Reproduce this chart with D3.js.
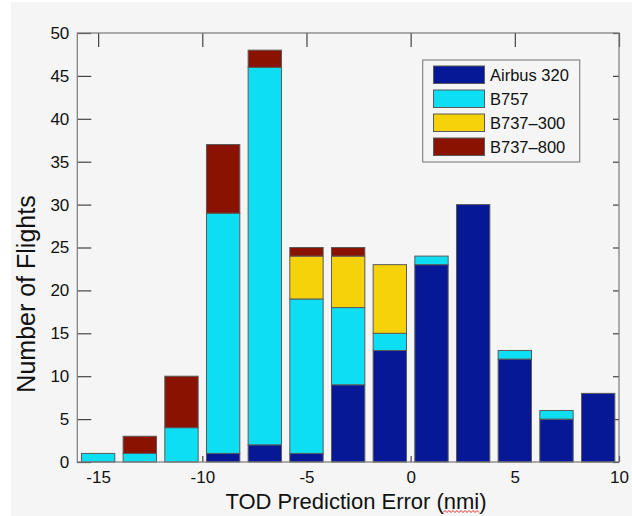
<!DOCTYPE html>
<html>
<head>
<meta charset="utf-8">
<script src="https://cdn.jsdelivr.net/npm/d3@7"></script>
<style>
  html, body { margin: 0; padding: 0; background: #ffffff; }
  svg { display: block; }
  text { font-family: "Liberation Sans", Arial, Helvetica, sans-serif; fill: #111; }
</style>
</head>
<body>
<script>
// ---- data ----
const categories = [-15, -13, -11, -9, -7, -5, -3, -1, 1, 3, 5, 7, 9];
const seriesNames = ["Airbus 320", "B757", "B737-300", "B737-800"];
const airbus320 = [0, 0, 0, 1, 2, 1, 9, 13, 23, 30, 12, 5, 8];
const b757      = [1, 1, 4, 28, 44, 18, 9, 2, 1, 0, 1, 1, 0];
const b737_300  = [0, 0, 0, 0, 0, 5, 6, 8, 0, 0, 0, 0, 0];
const b737_800  = [0, 2, 6, 8, 2, 1, 1, 0, 0, 0, 0, 0, 0];
const xTicks = [-15, -10, -5, 0, 5, 10];
const yTicks = [0, 5, 10, 15, 20, 25, 30, 35, 40, 45, 50];
const xTitle = "TOD Prediction Error (nmi)";
const yTitle = "Number of Flights";

(function () {
// ---- setup ----
const W = 632, H = 516;
const colors = ["#061896", "#0edef4", "#f5d20a", "#891200"];
const seriesArrays = [airbus320, b757, b737_300, b737_800];

const rows = categories.map((c, i) => {
  const r = { cat: c };
  seriesNames.forEach((s, k) => { r[s] = seriesArrays[k][i]; });
  return r;
});

const svg = d3.select("body").append("svg").attr("width", W).attr("height", H);
svg.append("rect").attr("width", W).attr("height", H).attr("fill", "#ffffff");
svg.append("rect").attr("x", 11).attr("y", 2).attr("width", W - 11).attr("height", H - 2).attr("fill", "#f5f5f5");

const pLeft = 77.3, pRight = 619, pTop = 33, pBottom = 462;
const x = d3.scaleLinear().domain([-16, 10]).range([pLeft, pRight]);
const y = d3.scaleLinear().domain([0, 50]).range([pBottom, pTop]);

// ticks
const tickColor = "#444";
const gLeft = svg.append("g").attr("transform", `translate(${pLeft},0)`)
  .call(d3.axisLeft(y).tickValues(yTicks).tickSizeInner(-14).tickSizeOuter(0).tickPadding(8));
const gRight = svg.append("g").attr("transform", `translate(${pRight},0)`)
  .call(d3.axisRight(y).tickValues(yTicks).tickSizeInner(-6).tickSizeOuter(0).tickFormat(""));
const gTop = svg.append("g").attr("transform", `translate(0,${pTop})`)
  .call(d3.axisTop(x).tickValues(xTicks).tickSizeInner(-14).tickSizeOuter(0).tickFormat(""));
const gBottom = svg.append("g").attr("transform", `translate(0,${pBottom})`)
  .call(d3.axisBottom(x).tickValues(xTicks).tickSizeInner(-6).tickSizeOuter(0).tickPadding(9));

[gLeft, gRight, gTop, gBottom].forEach(g => {
  g.select(".domain").remove();
  g.selectAll(".tick line").attr("stroke", tickColor).attr("stroke-width", 1.2);
  g.selectAll(".tick text").style("font-size", "17px")
    .style("font-family", '"Liberation Sans", Arial, sans-serif').attr("fill", "#111");
});
gBottom.selectAll(".tick text").text(d => d < 0 ? "-" + Math.abs(d) : String(d));

// stacked bars
const stacked = d3.stack().keys(seriesNames)(rows);
const barW = 1.6; // in data units
const gBars = svg.append("g");
stacked.forEach((layer, k) => {
  gBars.selectAll(null)
    .data(layer.filter(d => d[1] - d[0] > 0))
    .enter().append("rect")
    .attr("x", d => x(d.data.cat - barW / 2))
    .attr("width", d => x(d.data.cat + barW / 2) - x(d.data.cat - barW / 2))
    .attr("y", d => y(d[1]))
    .attr("height", d => y(d[0]) - y(d[1]))
    .attr("fill", colors[k])
    .attr("stroke", "#5a5a5a")
    .attr("stroke-width", 1);
});

// frame
svg.append("rect")
  .attr("x", pLeft).attr("y", pTop)
  .attr("width", pRight - pLeft).attr("height", pBottom - pTop)
  .attr("fill", "none").attr("stroke", "#7a7a7a").attr("stroke-width", 1.2);

// legend
const lg = svg.append("g");
lg.append("rect").attr("x", 422.7).attr("y", 60).attr("width", 157).attr("height", 102)
  .attr("fill", "#f5f5f5").attr("stroke", "#888").attr("stroke-width", 1.2);
seriesNames.forEach((s, k) => {
  const yy = 66 + k * 24;
  lg.append("rect").attr("x", 433.5).attr("y", yy).attr("width", 51).attr("height", 17.5)
    .attr("fill", colors[k]).attr("stroke", "#5a5a5a").attr("stroke-width", 1);
  lg.append("text").attr("x", 490).attr("y", yy + 9)
    .attr("dominant-baseline", "central")
    .style("font-size", "16.5px").text(s.replace("-", "\u2013"));
});

// titles
svg.append("text").attr("x", 356).attr("y", 509).attr("text-anchor", "middle")
  .style("font-size", "22px").text(xTitle);
svg.append("text").attr("transform", "translate(35,294) rotate(-90)")
  .attr("text-anchor", "middle").style("font-size", "25px").text(yTitle);

// spell-check squiggle under "nmi"
const sq = [];
for (let px = 443, i = 0; px <= 479; px += 2, i++) sq.push([px, i % 2 ? 510.5 : 512.5]);
svg.append("path").attr("d", d3.line()(sq)).attr("fill", "none")
  .attr("stroke", "#e0302a").attr("stroke-width", 1);
})();
</script>
</body>
</html>
